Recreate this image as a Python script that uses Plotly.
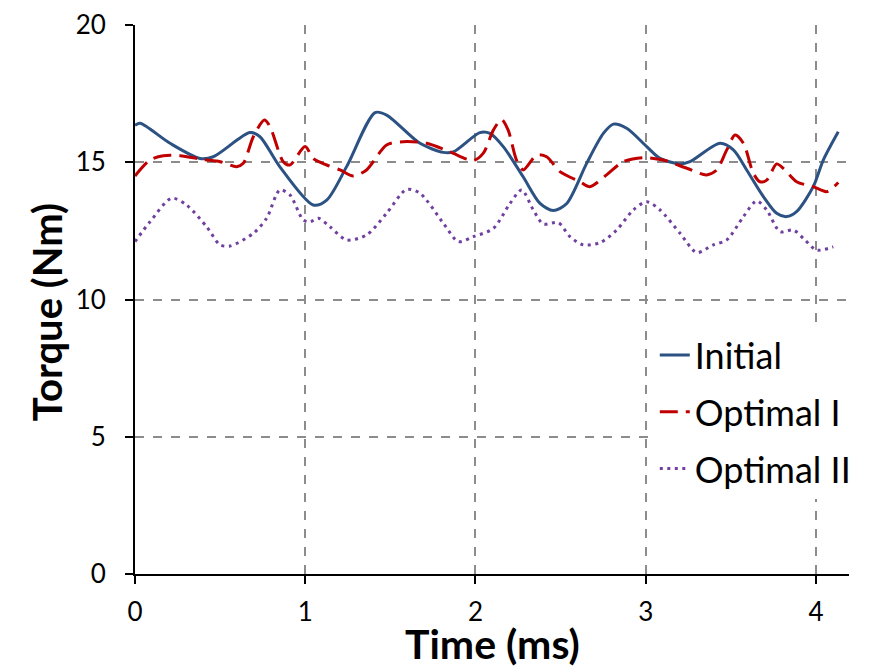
import plotly.graph_objects as go

# Initial (solid blue)
t_init = [0.0, 0.03, 0.206, 0.382, 0.46, 0.675, 0.734, 0.85, 1.047, 1.126, 1.243, 1.41, 1.478,
          1.674, 1.811, 1.87, 2.026, 2.085, 2.163, 2.28, 2.379, 2.457, 2.536, 2.653, 2.751, 2.81,
          2.888, 3.006, 3.084, 3.202, 3.26, 3.436, 3.515, 3.593, 3.691, 3.769, 3.828, 3.886,
          3.984, 4.043, 4.131]
T_init = [16.35, 16.42, 15.69, 15.14, 15.2, 16.08, 15.93, 14.84, 13.44, 13.62, 14.84, 16.81, 16.72,
          15.69, 15.36, 15.38, 16.08, 16.05, 15.57, 14.47, 13.5, 13.24, 13.5, 14.96, 16.05, 16.39,
          16.24, 15.57, 15.14, 14.94, 15.02, 15.69, 15.45, 14.72, 13.75, 13.14, 13.02, 13.2,
          14.11, 15.08, 16.11]

# Optimal I (dashed red)
t_opt1 = [0.0, 0.088, 0.166, 0.264, 0.401, 0.5, 0.597, 0.636, 0.695, 0.76, 0.793, 0.871, 0.91,
          0.999, 1.047, 1.126, 1.204, 1.282, 1.36, 1.478, 1.576, 1.713, 1.85, 1.987, 2.046, 2.105,
          2.153, 2.192, 2.241, 2.28, 2.359, 2.418, 2.496, 2.614, 2.672, 2.77, 2.868, 2.986, 3.103,
          3.241, 3.358, 3.417, 3.476, 3.525, 3.574, 3.632, 3.671, 3.711, 3.769, 3.808, 3.886,
          3.984, 4.063, 4.131]
T_opt1 = [14.5, 15.08, 15.24, 15.24, 15.1, 15.02, 14.84, 14.96, 15.93, 16.54, 16.3, 15.02, 14.9,
          15.57, 15.14, 14.9, 14.72, 14.5, 14.72, 15.63, 15.75, 15.69, 15.38, 15.06, 15.33, 16.17,
          16.56, 16.17, 15.08, 14.72, 15.26, 15.2, 14.66, 14.29, 14.11, 14.54, 15.02, 15.17, 15.08,
          14.78, 14.54, 14.72, 15.45, 15.99, 15.69, 14.6, 14.29, 14.35, 14.94, 14.78, 14.29,
          14.11, 13.93, 14.26]

# Optimal II (dotted purple)
t_opt2 = [0.0, 0.088, 0.215, 0.303, 0.421, 0.5, 0.558, 0.695, 0.773, 0.851, 0.91, 0.988, 1.028,
          1.077, 1.145, 1.243, 1.36, 1.478, 1.595, 1.674, 1.811, 1.899, 1.987, 2.105, 2.203, 2.271,
          2.34, 2.398, 2.486, 2.555, 2.633, 2.731, 2.829, 2.927, 3.006, 3.084, 3.202, 3.3, 3.397,
          3.476, 3.574, 3.652, 3.711, 3.789, 3.867, 3.935, 4.004, 4.102]
T_opt2 = [12.11, 12.83, 13.69, 13.44, 12.65, 11.99, 11.95, 12.41, 12.96, 13.99, 13.81, 12.9, 12.83,
          12.96, 12.65, 12.17, 12.35, 13.14, 14.01, 13.87, 12.78, 12.11, 12.29, 12.59, 13.5, 13.99,
          13.26, 12.75, 12.8, 12.29, 11.99, 12.07, 12.53, 13.26, 13.56, 13.26, 12.41, 11.71, 11.99,
          12.17, 13.02, 13.59, 13.26, 12.47, 12.53, 12.17, 11.8, 11.92]

x_ticks = [0, 1, 2, 3, 4]
y_ticks = [0, 5, 10, 15, 20]
names = ["Initial", "Optimal I", "Optimal II"]
x_title = "Time (ms)"
y_title = "Torque (Nm)"

FONT = "Lato, 'Liberation Sans', sans-serif"

fig = go.Figure()
fig.add_trace(go.Scatter(x=t_init, y=T_init, name=names[0], mode="lines", legendgroup="a",
                         line=dict(color="#2C5283", width=3, shape="spline", smoothing=0.8)))
fig.add_trace(go.Scatter(x=t_opt1, y=T_opt1, name=names[1], mode="lines", legendgroup="b",
                         line=dict(color="#C00000", width=3, dash="18px,8px", shape="spline", smoothing=0.8)))
fig.add_trace(go.Scatter(x=t_opt2, y=T_opt2, name=names[2], mode="lines", legendgroup="c",
                         line=dict(color="#7040A0", width=3, dash="3px,4.5px", shape="spline", smoothing=0.8)))

# page body has an 8px margin: shrink figure and shift margins to compensate
fig.update_layout(
    width=876, height=662,
    margin=dict(l=127, r=35, t=17, b=96, autoexpand=False),
    paper_bgcolor="white", plot_bgcolor="white",
    font=dict(family=FONT, color="black"),
    showlegend=True,
    legend=dict(x=0.728, y=0.4535, xanchor="left", yanchor="top",
                bgcolor="white", font=dict(size=36, family=FONT, color="black"),
                tracegroupgap=7, traceorder="grouped", itemwidth=30),
    xaxis=dict(range=[0, 4.194], tickvals=x_ticks, ticktext=[str(v) for v in x_ticks],
               showline=True, linecolor="black", linewidth=2, automargin=False,
               ticks="outside", ticklen=8, tickwidth=2, tickcolor="black",
               tickfont=dict(size=26, family=FONT), ticklabelstandoff=6,
               showgrid=True, gridcolor="#8C8C8C", gridwidth=1.5, griddash="dash",
               zeroline=False),
    yaxis=dict(range=[0, 20], tickvals=y_ticks, ticktext=[str(v) for v in y_ticks],
               showline=True, linecolor="black", linewidth=2, automargin=False,
               ticks="outside", ticklen=8, tickwidth=2, tickcolor="black",
               tickfont=dict(size=26, family=FONT), ticklabelstandoff=14,
               showgrid=True, gridcolor="#8C8C8C", gridwidth=1.5, griddash="dash",
               zeroline=False),
    annotations=[
        dict(text="<b>" + x_title + "</b>", xref="paper", yref="paper", x=0.5, y=-0.1257,
             xanchor="center", yanchor="middle", showarrow=False,
             font=dict(size=41, family=FONT, color="black")),
        dict(text="<b>" + y_title + "</b>", xref="paper", yref="paper", x=-0.1232, y=0.477,
             xanchor="center", yanchor="middle", showarrow=False, textangle=-90,
             font=dict(size=40, family=FONT, color="black")),
    ],
)

fig.write_html("out.html")
